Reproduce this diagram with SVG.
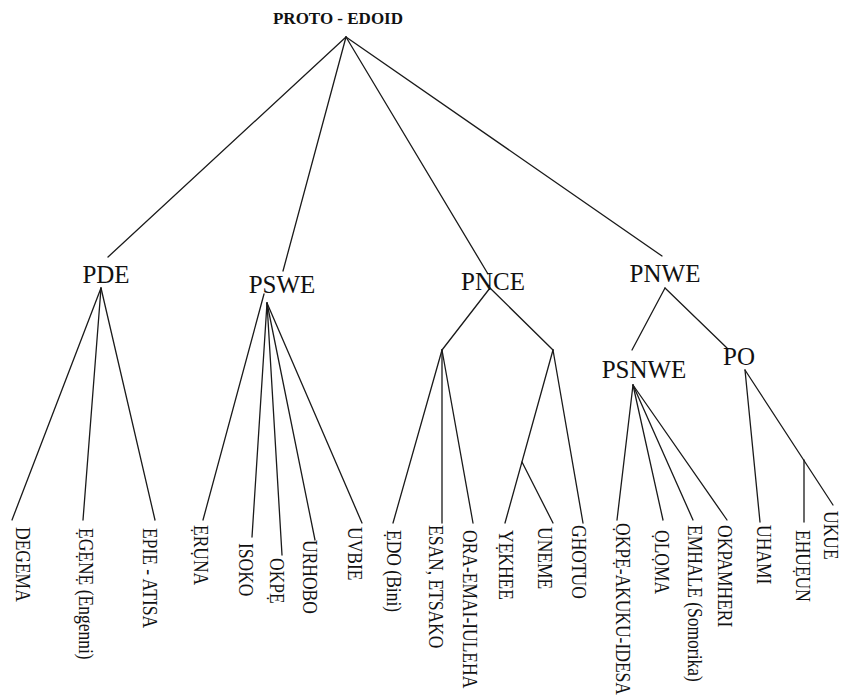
<svg xmlns="http://www.w3.org/2000/svg" width="845" height="699" viewBox="0 0 845 699">
<style>
  .bg { fill: #ffffff; }
  .edge { stroke: #1a1a1a; stroke-width: 1.3; fill: none; stroke-linecap: round; }
  .root { font-family: "Liberation Serif", "Times New Roman", serif; font-weight: bold; font-size: 17px; fill: #111; text-anchor: middle; }
  .node { font-family: "Liberation Serif", "Times New Roman", serif; font-size: 25px; fill: #111; text-anchor: middle; }
  .leaf { font-family: "Liberation Serif", "Times New Roman", serif; font-size: 17.5px; fill: #111; }
</style>
<rect class="bg" x="0" y="0" width="845" height="699"/>

<g id="connectors">
  <!-- root -->
  <line class="edge" x1="346" y1="37" x2="108" y2="257"/>
  <line class="edge" x1="346" y1="37" x2="283" y2="271"/>
  <line class="edge" x1="346" y1="37" x2="488" y2="274"/>
  <line class="edge" x1="346" y1="37" x2="662" y2="256"/>
  <!-- PDE -->
  <line class="edge" x1="101" y1="288" x2="12" y2="520"/>
  <line class="edge" x1="101" y1="288" x2="83" y2="520"/>
  <line class="edge" x1="101" y1="288" x2="155" y2="520"/>
  <!-- PSWE -->
  <line class="edge" x1="264" y1="294" x2="203" y2="520"/>
  <line class="edge" x1="267" y1="303" x2="252" y2="537"/>
  <line class="edge" x1="267" y1="303" x2="282" y2="555"/>
  <line class="edge" x1="267" y1="303" x2="315" y2="540"/>
  <line class="edge" x1="267" y1="303" x2="362" y2="523"/>
  <!-- PNCE -->
  <line class="edge" x1="490" y1="288" x2="442" y2="350"/>
  <line class="edge" x1="490" y1="288" x2="553" y2="350"/>
  <line class="edge" x1="442" y1="350" x2="393" y2="523"/>
  <line class="edge" x1="442" y1="350" x2="442" y2="523"/>
  <line class="edge" x1="442" y1="350" x2="473" y2="523"/>
  <line class="edge" x1="553" y1="350" x2="505" y2="523"/>
  <line class="edge" x1="522" y1="462" x2="553" y2="523"/>
  <line class="edge" x1="553" y1="350" x2="583" y2="523"/>
  <!-- PNWE -->
  <line class="edge" x1="665" y1="288" x2="632" y2="350"/>
  <line class="edge" x1="665" y1="288" x2="727" y2="348"/>
  <!-- PSNWE -->
  <line class="edge" x1="633" y1="385" x2="617" y2="520"/>
  <line class="edge" x1="633" y1="385" x2="663" y2="520"/>
  <line class="edge" x1="633" y1="385" x2="693" y2="520"/>
  <line class="edge" x1="633" y1="385" x2="727" y2="520"/>
  <!-- PO -->
  <line class="edge" x1="745" y1="370" x2="760" y2="522"/>
  <line class="edge" x1="745" y1="370" x2="833" y2="505"/>
  <line class="edge" x1="804" y1="460" x2="804" y2="522"/>
</g>

<g id="n-root"><text class="root" x="338" y="24">PROTO - EDOID</text></g>
<g id="n-pde"><text class="node" x="106" y="283">PDE</text></g>
<g id="n-pswe"><text class="node" x="282" y="293">PSWE</text></g>
<g id="n-pnce"><text class="node" x="493" y="290">PNCE</text></g>
<g id="n-pnwe"><text class="node" x="665" y="282">PNWE</text></g>
<g id="n-psnwe"><text class="node" x="644" y="378">PSNWE</text></g>
<g id="n-po"><text class="node" x="739" y="365">PO</text></g>

<g id="l-degema"><text class="leaf" transform="translate(16,527) rotate(90) scale(1,1.2)">DEGEMA</text></g>
<g id="l-egene"><text class="leaf" transform="translate(79,528) rotate(90) scale(1,1.2)">ẸGẸNẸ (Engenni)</text></g>
<g id="l-epie"><text class="leaf" transform="translate(143,528) rotate(90) scale(1,1.2)">EPIE - ATISA</text></g>
<g id="l-eruna"><text class="leaf" transform="translate(194,525) rotate(90) scale(1,1.2)">ẸRỤNA</text></g>
<g id="l-isoko"><text class="leaf" transform="translate(239,543) rotate(90) scale(1,1.2)">ISOKO</text></g>
<g id="l-okpe"><text class="leaf" transform="translate(270,558) rotate(90) scale(1,1.2)">OKPẸ</text></g>
<g id="l-urhobo"><text class="leaf" transform="translate(303,540) rotate(90) scale(1,1.2)">URHOBO</text></g>
<g id="l-uvbie"><text class="leaf" transform="translate(348,527) rotate(90) scale(1,1.2)">UVBIE</text></g>
<g id="l-edo"><text class="leaf" transform="translate(387,530) rotate(90) scale(1,1.2)">ẸDO (Bini)</text></g>
<g id="l-esan"><text class="leaf" transform="translate(429,525) rotate(90) scale(1,1.2)">ESAN, ETSAKO</text></g>
<g id="l-ora"><text class="leaf" transform="translate(463,530) rotate(90) scale(1,1.2)">ORA-EMAI-IULEHA</text></g>
<g id="l-yekhee"><text class="leaf" transform="translate(499,530) rotate(90) scale(1,1.2)">YẸKHEE</text></g>
<g id="l-uneme"><text class="leaf" transform="translate(538,527) rotate(90) scale(1,1.2)">UNEME</text></g>
<g id="l-ghotuo"><text class="leaf" transform="translate(572,525) rotate(90) scale(1,1.2)">GHOTUO</text></g>
<g id="l-okpe-akuku"><text class="leaf" transform="translate(616,523) rotate(90) scale(1,1.2)">ỌKPẸ-AKUKU-IDESA</text></g>
<g id="l-oloma"><text class="leaf" transform="translate(655,530) rotate(90) scale(1,1.2)">ỌLỌMA</text></g>
<g id="l-emhale"><text class="leaf" transform="translate(688,525) rotate(90) scale(1,1.2)">EMHALE (Somorika)</text></g>
<g id="l-okpamheri"><text class="leaf" transform="translate(718,525) rotate(90) scale(1,1.2)">OKPAMHERI</text></g>
<g id="l-uhami"><text class="leaf" transform="translate(757,525) rotate(90) scale(1,1.2)">UHAMI</text></g>
<g id="l-ehueun"><text class="leaf" transform="translate(796,530) rotate(90) scale(1,1.2)">EHUẸUN</text></g>
<g id="l-ukue"><text class="leaf" transform="translate(824,511) rotate(90) scale(1,1.2)">UKUE</text></g>
</svg>
